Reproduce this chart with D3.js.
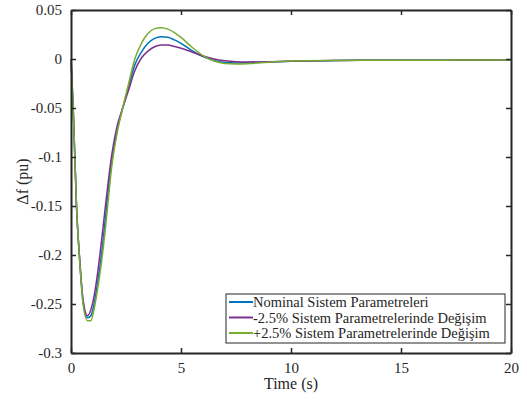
<!DOCTYPE html>
<html>
  <head>
    <meta charset="utf-8">
    <title>Delta f</title>
    <style>
      body { margin: 0; background: #fff; }
      text { font-family: "Liberation Serif", "Times New Roman", serif; fill: #262626; }
    </style>
  </head>
  <body>
    <svg width="527" height="401"></svg>

    <script src="https://d3js.org/d3.v7.min.js"></script>
    <script>

      // time samples (s)
      var time = [0, 0.1, 0.25, 0.4, 0.55, 0.75, 0.9, 1.05, 1.2, 1.4, 1.6, 1.85, 2.1, 2.35, 2.6, 2.9, 3.2, 3.5, 3.8, 4.1, 4.4, 4.7, 5.0, 5.5, 6.0, 6.5, 7.0, 7.5, 8.0, 9, 10, 12, 14, 16, 18, 20];

      var nominal = [0, -0.05, -0.15, -0.207, -0.248, -0.264, -0.262, -0.25, -0.23, -0.197, -0.155, -0.105, -0.072, -0.05, -0.03, -0.006, 0.007, 0.016, 0.021, 0.0228, 0.0222, 0.0195, 0.016, 0.0085, 0.0025, -0.0015, -0.0035, -0.004, -0.0038, -0.003, -0.0022, -0.0016, -0.0013, -0.0012, -0.0011, -0.001];
      var minus25 = [0, -0.05, -0.15, -0.206, -0.246, -0.262, -0.256, -0.242, -0.22, -0.183, -0.143, -0.098, -0.068, -0.05, -0.033, -0.012, 0.001, 0.008, 0.0125, 0.0142, 0.0142, 0.0128, 0.011, 0.0072, 0.003, 0.0, -0.0018, -0.0027, -0.003, -0.0028, -0.0022, -0.0016, -0.0013, -0.0012, -0.0011, -0.001];
      var plus25 = [0, -0.05, -0.15, -0.208, -0.25, -0.267, -0.267, -0.255, -0.236, -0.205, -0.165, -0.11, -0.075, -0.05, -0.027, 0.0, 0.016, 0.026, 0.031, 0.032, 0.0305, 0.027, 0.022, 0.012, 0.0035, -0.002, -0.0045, -0.005, -0.0048, -0.0032, -0.002, -0.0015, -0.0013, -0.0012, -0.0011, -0.001];

      var seriesNames = ["Nominal Sistem Parametreleri", "-2.5% Sistem Parametrelerinde Değişim", "+2.5% Sistem Parametrelerinde Değişim"];
      var seriesColors = ["#0072BD", "#7E2F8E", "#77AC30"];
      var xTicks = [0, 5, 10, 15, 20];
      var yTicks = [0.05, 0, -0.05, -0.1, -0.15, -0.2, -0.25, -0.3];

      var series = [nominal, minus25, plus25];

      var svg = d3.select("svg"),
        margin = { top: 10, right: 16, bottom: 48, left: 71 },
        width = +svg.attr("width"),
        height = +svg.attr("height");

      var x = d3.scaleLinear()
        .domain([0, 20])
        .range([margin.left, width - margin.right]);

      var y = d3.scaleLinear()
        .domain([-0.3, 0.05])
        .range([height - margin.bottom, margin.top]);

      var fmt = function (d) {
        return d === 0 ? "0" : String(+d.toFixed(2));
      };

      var line = d3.line()
        .x(function (d, i) { return x(time[i]); })
        .y(function (d) { return y(d); })
        .curve(d3.curveMonotoneX);

      svg.append("g")
        .selectAll("path")
        .data(series)
        .enter().append("path")
        .attr("fill", "none")
        .attr("stroke", function (d, i) { return seriesColors[i]; })
        .attr("stroke-width", 1.5)
        .attr("d", line);

      // axes (MATLAB style box, ticks inward)
      var axisColor = "#262626";
      var tl = 5;

      function styleAxis(g) {
        g.select(".domain").attr("stroke", axisColor).attr("stroke-width", 2);
        g.selectAll(".tick line").attr("stroke", axisColor).attr("stroke-width", 1.5);
        g.selectAll(".tick text")
          .style("font-family", "'Liberation Serif', serif")
          .style("font-size", "15px")
          .attr("fill", axisColor);
      }

      svg.append("g")
        .attr("transform", "translate(0," + y(-0.3) + ")")
        .call(d3.axisBottom(x).tickValues(xTicks).tickSizeInner(-tl).tickSizeOuter(0).tickPadding(9).tickFormat(fmt))
        .call(styleAxis);

      svg.append("g")
        .attr("transform", "translate(0," + y(0.05) + ")")
        .call(d3.axisTop(x).tickValues(xTicks).tickSizeInner(-tl).tickSizeOuter(0).tickFormat(""))
        .call(styleAxis);

      svg.append("g")
        .attr("transform", "translate(" + x(0) + ",0)")
        .call(d3.axisLeft(y).tickValues(yTicks).tickSizeInner(-tl).tickSizeOuter(0).tickPadding(9).tickFormat(fmt))
        .call(styleAxis);

      svg.append("g")
        .attr("transform", "translate(" + x(20) + ",0)")
        .call(d3.axisRight(y).tickValues(yTicks).tickSizeInner(-tl).tickSizeOuter(0).tickFormat(""))
        .call(styleAxis);

      // axis labels
      svg.append("text")
        .attr("x", (x(0) + x(20)) / 2)
        .attr("y", 389)
        .attr("text-anchor", "middle")
        .style("font-size", "16px")
        .text("Time (s)");

      svg.append("text")
        .attr("transform", "translate(28," + ((y(0.05) + y(-0.3)) / 2) + ") rotate(-90)")
        .attr("text-anchor", "middle")
        .style("font-size", "16px")
        .text("\u0394f (pu)");

      // legend
      var legend = svg.append("g").attr("transform", "translate(226,294)");

      legend.append("rect")
        .attr("width", 279)
        .attr("height", 49)
        .attr("fill", "#fff")
        .attr("stroke", axisColor)
        .attr("stroke-width", 1);

      var rows = legend.selectAll("g.row")
        .data(seriesNames)
        .enter().append("g")
        .attr("class", "row")
        .attr("transform", function (d, i) { return "translate(0," + (8 + i * 15.5) + ")"; });

      rows.append("line")
        .attr("x1", 3).attr("x2", 27)
        .attr("stroke", function (d, i) { return seriesColors[i]; })
        .attr("stroke-width", 2);

      rows.append("text")
        .attr("x", 27)
        .attr("y", 5)
        .style("font-size", "14.5px")
        .text(function (d) { return d; });

    </script>
  </body>
</html>
